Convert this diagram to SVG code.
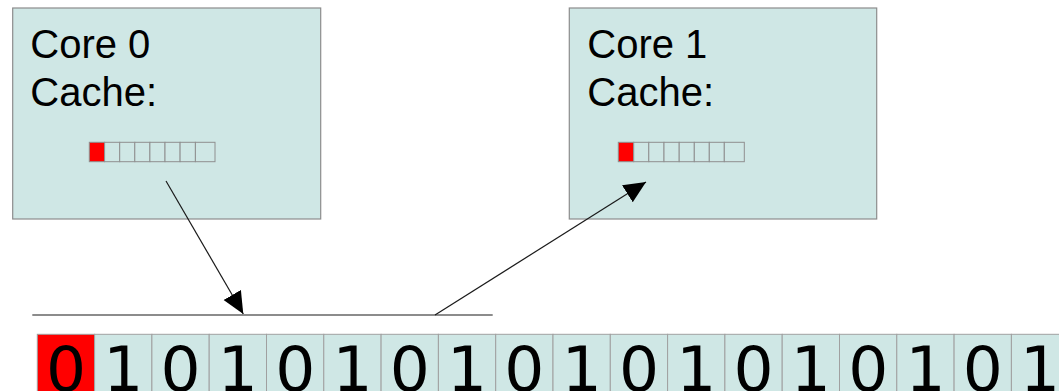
<svg xmlns="http://www.w3.org/2000/svg" width="1059" height="391" viewBox="0 0 1059 391">
  <style>
    .core { fill: #cfe7e5; stroke: #8c8c8c; stroke-width: 1.2; }
    .label { font-family: "Liberation Sans", Arial, sans-serif; font-size: 40px; fill: #000; }
    .slot { fill: #cfe7e5; stroke: #8f8f8f; stroke-width: 1; }
    .slot.hot { fill: #ff0000; }
    .cell { fill: #cfe7e5; stroke: #a0a0a0; stroke-width: 1; }
    .cell.hot { fill: #ff0000; }
    .bit { font-family: "DejaVu Sans", sans-serif; font-size: 63px; fill: #000; text-anchor: middle; }
    .wire { stroke: #1a1a1a; stroke-width: 1.2; fill: none; }
  </style>
  <defs>
    <marker id="arrow" markerUnits="userSpaceOnUse" markerWidth="24" markerHeight="22" refX="22" refY="10" orient="auto">
      <path d="M0,0 L22,10 L0,20 z" fill="#000"/>
    </marker>
  </defs>
  <rect width="1059" height="391" fill="#fff"/>

  <!-- Core 0 -->
  <g id="core0">
    <rect class="core" x="12.7" y="8" width="308" height="211"/>
    <text class="label" x="30.3" y="58">Core 0</text>
    <text class="label" x="30.3" y="106">Cache:</text>
    <rect class="slot hot" x="89.3" y="142.3" width="15.3" height="19.4"/>
    <rect class="slot" x="104.6" y="142.3" width="15.1" height="19.4"/>
    <rect class="slot" x="119.7" y="142.3" width="15.1" height="19.4"/>
    <rect class="slot" x="134.8" y="142.3" width="15.1" height="19.4"/>
    <rect class="slot" x="149.9" y="142.3" width="15.1" height="19.4"/>
    <rect class="slot" x="165" y="142.3" width="15.1" height="19.4"/>
    <rect class="slot" x="180.1" y="142.3" width="15.3" height="19.4"/>
    <rect class="slot" x="195.4" y="142.3" width="19.6" height="19.4"/>
  </g>

  <!-- Core 1 -->
  <g id="core1">
    <rect class="core" x="569.3" y="8" width="307.4" height="211"/>
    <text class="label" x="587.3" y="58">Core 1</text>
    <text class="label" x="587.3" y="106">Cache:</text>
    <rect class="slot hot" x="618.3" y="142.3" width="15.4" height="19.4"/>
    <rect class="slot" x="633.7" y="142.3" width="15.1" height="19.4"/>
    <rect class="slot" x="648.8" y="142.3" width="15.2" height="19.4"/>
    <rect class="slot" x="664" y="142.3" width="15.2" height="19.4"/>
    <rect class="slot" x="679.2" y="142.3" width="15.1" height="19.4"/>
    <rect class="slot" x="694.3" y="142.3" width="15" height="19.4"/>
    <rect class="slot" x="709.3" y="142.3" width="15" height="19.4"/>
    <rect class="slot" x="724.3" y="142.3" width="20" height="19.4"/>
  </g>

  <!-- Memory row -->
  <g id="memory">
    <rect class="cell hot" x="37.3" y="334.3" width="57.3" height="70"/>
    <rect class="cell" x="94.6" y="334.3" width="57.3" height="70"/>
    <rect class="cell" x="151.9" y="334.3" width="57.3" height="70"/>
    <rect class="cell" x="209.2" y="334.3" width="57.3" height="70"/>
    <rect class="cell" x="266.5" y="334.3" width="57.3" height="70"/>
    <rect class="cell" x="323.8" y="334.3" width="57.3" height="70"/>
    <rect class="cell" x="381.1" y="334.3" width="57.3" height="70"/>
    <rect class="cell" x="438.4" y="334.3" width="57.3" height="70"/>
    <rect class="cell" x="495.7" y="334.3" width="57.3" height="70"/>
    <rect class="cell" x="553" y="334.3" width="57.3" height="70"/>
    <rect class="cell" x="610.3" y="334.3" width="57.3" height="70"/>
    <rect class="cell" x="667.6" y="334.3" width="57.3" height="70"/>
    <rect class="cell" x="724.9" y="334.3" width="57.3" height="70"/>
    <rect class="cell" x="782.2" y="334.3" width="57.3" height="70"/>
    <rect class="cell" x="839.5" y="334.3" width="57.3" height="70"/>
    <rect class="cell" x="896.8" y="334.3" width="57.3" height="70"/>
    <rect class="cell" x="954.1" y="334.3" width="57.3" height="70"/>
    <rect class="cell" x="1011.4" y="334.3" width="57.3" height="70"/>
    <text class="bit" x="66" y="391">0</text>
    <text class="bit" x="123.3" y="391">1</text>
    <text class="bit" x="180.6" y="391">0</text>
    <text class="bit" x="237.9" y="391">1</text>
    <text class="bit" x="295.2" y="391">0</text>
    <text class="bit" x="352.5" y="391">1</text>
    <text class="bit" x="409.8" y="391">0</text>
    <text class="bit" x="467.1" y="391">1</text>
    <text class="bit" x="524.4" y="391">0</text>
    <text class="bit" x="581.7" y="391">1</text>
    <text class="bit" x="639" y="391">0</text>
    <text class="bit" x="696.3" y="391">1</text>
    <text class="bit" x="753.6" y="391">0</text>
    <text class="bit" x="810.9" y="391">1</text>
    <text class="bit" x="868.2" y="391">0</text>
    <text class="bit" x="925.5" y="391">1</text>
    <text class="bit" x="982.8" y="391">0</text>
    <text class="bit" x="1040.1" y="391">1</text>
  </g>

  <!-- Connectors -->
  <g id="connectors">
    <line class="wire" x1="32.3" y1="315" x2="492.7" y2="315"/>
    <line class="wire" x1="166" y1="181" x2="243.3" y2="314" marker-end="url(#arrow)"/>
    <line class="wire" x1="435" y1="315" x2="646" y2="182" marker-end="url(#arrow)"/>
  </g>
</svg>
